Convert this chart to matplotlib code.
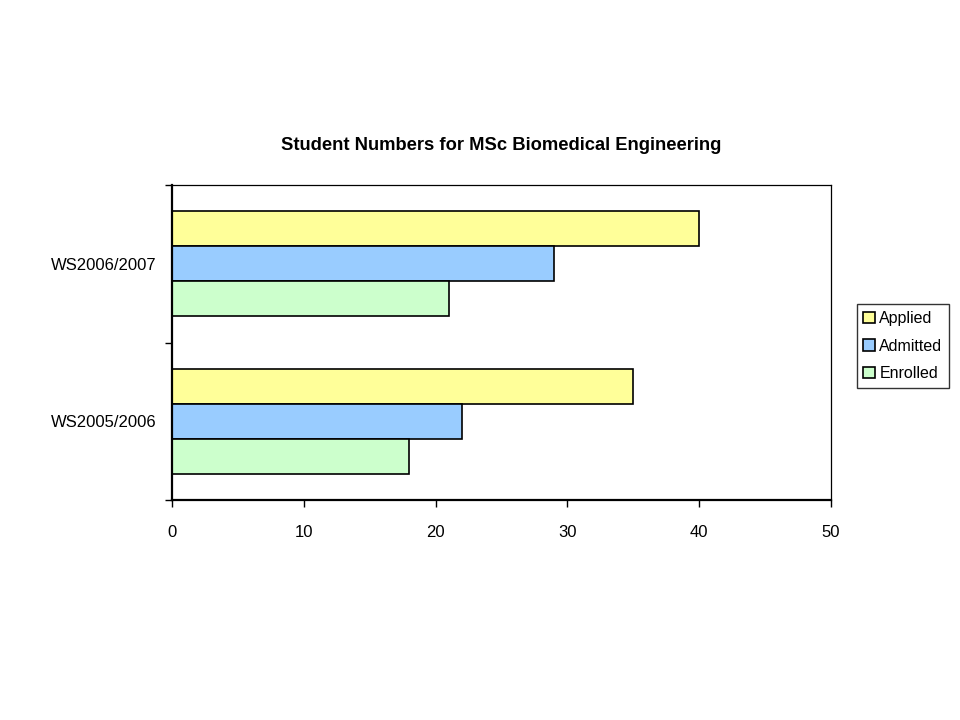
import numpy as np
import matplotlib
matplotlib.use("Agg")
import matplotlib.pyplot as plt
from matplotlib.ticker import FixedLocator

plt.rcParams['font.family'] = ['Liberation Sans', 'DejaVu Sans']

# data
semesters = ["WS2005/2006", "WS2006/2007"]
applied = [35, 40]
admitted = [22, 29]
enrolled = [18, 21]
series_names = ["Applied", "Admitted", "Enrolled"]
series_colors = ["#FFFF99", "#99CCFF", "#CCFFCC"]

fig = plt.figure(figsize=(9.6, 7.2), dpi=100)
ax = fig.add_axes([172 / 960, 1 - 500 / 720, (831 - 172) / 960, (500 - 185) / 720])

centers = np.arange(len(semesters)) + 0.5
h = 1 / 4.5
offsets = [h, 0, -h]
for vals, name, col, off in zip([applied, admitted, enrolled], series_names, series_colors, offsets):
    ax.barh(centers + off, vals, height=h, color=col, edgecolor="black", linewidth=1.2, label=name)

ax.set_xlim(0, 50)
ax.set_ylim(0, len(semesters))
ax.set_xticks(np.arange(0, 51, 10))
ax.set_yticks(centers)
ax.set_yticklabels(semesters)
ax.yaxis.set_minor_locator(FixedLocator(np.arange(0, len(semesters) + 1)))
ax.tick_params(axis="y", which="major", length=0, pad=11, labelsize=12)
ax.tick_params(axis="y", which="minor", length=5, width=1, direction="out")
ax.tick_params(axis="x", length=5, width=1, direction="out", pad=13, labelsize=12)

for s in ["left", "bottom"]:
    ax.spines[s].set_linewidth(1.6)
for s in ["top", "right"]:
    ax.spines[s].set_linewidth(0.9)

ax.set_title("Student Numbers for MSc Biomedical Engineering", fontsize=13.2, fontweight="bold", pad=25)

leg = ax.legend(loc="center left", bbox_to_anchor=(857 / 960, 1 - 346 / 720),
                bbox_transform=fig.transFigure, borderaxespad=0, fancybox=False,
                edgecolor="black", fontsize=11.5, handlelength=0.7, handleheight=0.7,
                handletextpad=0.3, labelspacing=0.8, borderpad=0.4)
leg.get_frame().set_linewidth(1.0)

fig.savefig("out.png", dpi=100)
